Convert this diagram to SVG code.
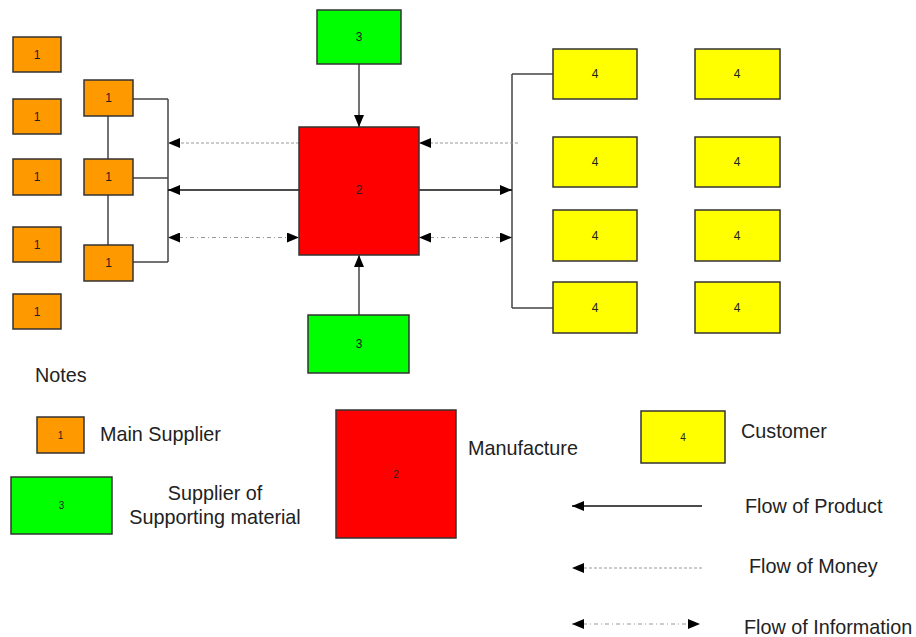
<svg xmlns="http://www.w3.org/2000/svg" width="916" height="637" viewBox="0 0 916 637">
<style>
.box{stroke:#333;stroke-width:1.5}
.o{fill:#ff9900}.g{fill:#00ff00}.r{fill:#ff0000}.y{fill:#ffff00}
.n{font-family:"Liberation Sans",Arial,sans-serif;font-size:12px;fill:#222;text-anchor:middle;dominant-baseline:central}
.ns{font-size:10px}
.t{font-family:"Liberation Sans",Arial,sans-serif;font-size:19.8px;fill:#222}
.ln{fill:none;stroke:#444;stroke-width:1.5}
.prod{fill:none;stroke:#111;stroke-width:1.5}
.money{fill:none;stroke:#999;stroke-width:1;stroke-dasharray:3 2}
.info{fill:none;stroke:#999;stroke-width:1.2;stroke-dasharray:4 3 1 3}
</style>
<defs>
<marker id="ah" viewBox="0 0 12 10" refX="12" refY="5" markerWidth="12" markerHeight="10" markerUnits="userSpaceOnUse" orient="auto-start-reverse">
<path d="M0,0 L12,5 L0,10 Z" fill="#000"/>
</marker>
</defs>

<g id="connectors">
<path class="ln" d="M108,116 V159 M108,195 V245"/>
<path class="ln" d="M133,99 H168 M133,178 H168 M133,262 H168 M168,99 V262"/>
<path class="ln" d="M512,74 H553 M512,308 H553 M512,74 V308"/>
<path class="ln" d="M359,64 V127" marker-end="url(#ah)"/>
<path class="ln" d="M359,315 V255" marker-end="url(#ah)"/>
<path class="money" d="M299,143 H168" marker-end="url(#ah)"/>
<path class="prod" d="M299,190 H168" marker-end="url(#ah)"/>
<path class="info" d="M168,237.5 H299" marker-start="url(#ah)" marker-end="url(#ah)"/>
<path class="money" d="M518,143 H419" marker-end="url(#ah)"/>
<path class="prod" d="M419,190 H512" marker-end="url(#ah)"/>
<path class="info" d="M419,237.5 H512" marker-start="url(#ah)" marker-end="url(#ah)"/>
</g>

<g id="s1a"><rect class="box o" x="13" y="37" width="48" height="35"/><text class="n" x="37" y="54.5">1</text></g>
<g id="s1b"><rect class="box o" x="13" y="99" width="48" height="35"/><text class="n" x="37" y="116.5">1</text></g>
<g id="s1c"><rect class="box o" x="13" y="159" width="48" height="36"/><text class="n" x="37" y="177">1</text></g>
<g id="s1d"><rect class="box o" x="13" y="227" width="48" height="35"/><text class="n" x="37" y="244.5">1</text></g>
<g id="s1e"><rect class="box o" x="13" y="294" width="48" height="35"/><text class="n" x="37" y="311.5">1</text></g>
<g id="m1a"><rect class="box o" x="84" y="80" width="49" height="36"/><text class="n" x="108.5" y="98">1</text></g>
<g id="m1b"><rect class="box o" x="84" y="159" width="49" height="36"/><text class="n" x="108.5" y="177">1</text></g>
<g id="m1c"><rect class="box o" x="84" y="245" width="49" height="36"/><text class="n" x="108.5" y="263">1</text></g>

<g id="g3top"><rect class="box g" x="317" y="10" width="84" height="54"/><text class="n" x="359" y="37">3</text></g>
<g id="manuf"><rect class="box r" x="299" y="127" width="120" height="128"/><text class="n" x="359" y="190">2</text></g>
<g id="g3bot"><rect class="box g" x="308" y="315" width="101" height="58"/><text class="n" x="359" y="344">3</text></g>

<g id="c1"><rect class="box y" x="553" y="49" width="84" height="50"/><text class="n" x="595" y="74">4</text></g>
<g id="c2"><rect class="box y" x="695" y="49" width="85" height="50"/><text class="n" x="737" y="74">4</text></g>
<g id="c3"><rect class="box y" x="553" y="137" width="84" height="50"/><text class="n" x="595" y="162">4</text></g>
<g id="c4"><rect class="box y" x="695" y="137" width="85" height="50"/><text class="n" x="737" y="162">4</text></g>
<g id="c5"><rect class="box y" x="553" y="210" width="84" height="51"/><text class="n" x="595" y="235.5">4</text></g>
<g id="c6"><rect class="box y" x="695" y="210" width="85" height="51"/><text class="n" x="737" y="235.5">4</text></g>
<g id="c7"><rect class="box y" x="553" y="282" width="84" height="51"/><text class="n" x="595" y="307.5">4</text></g>
<g id="c8"><rect class="box y" x="695" y="282" width="85" height="51"/><text class="n" x="737" y="307.5">4</text></g>

<g id="legend">
<text class="t" x="35" y="382">Notes</text>
<g id="lg1"><rect class="box o" x="37" y="417" width="47" height="36"/><text class="n ns" x="60.5" y="435">1</text></g>
<text class="t" x="100" y="441">Main Supplier</text>
<g id="lg3"><rect class="box g" x="11" y="477" width="101" height="57"/><text class="n ns" x="61.5" y="505.5">3</text></g>
<text class="t" x="215" y="500" text-anchor="middle">Supplier of</text>
<text class="t" x="215" y="524" text-anchor="middle">Supporting material</text>
<g id="lg2"><rect class="box r" x="336" y="410" width="120" height="128"/><text class="n ns" x="396" y="474">2</text></g>
<text class="t" x="468" y="455">Manufacture</text>
<g id="lg4"><rect class="box y" x="641" y="411" width="84" height="52"/><text class="n ns" x="683" y="437">4</text></g>
<text class="t" x="741" y="438">Customer</text>
<path class="prod" d="M702,506 H572" marker-end="url(#ah)"/>
<text class="t" x="745" y="513">Flow of Product</text>
<path class="money" d="M702,568 H572" marker-end="url(#ah)"/>
<text class="t" x="749" y="573">Flow of Money</text>
<path class="info" d="M572,624 H700" marker-start="url(#ah)" marker-end="url(#ah)"/>
<text class="t" x="744" y="634">Flow of Information</text>
</g>
</svg>
